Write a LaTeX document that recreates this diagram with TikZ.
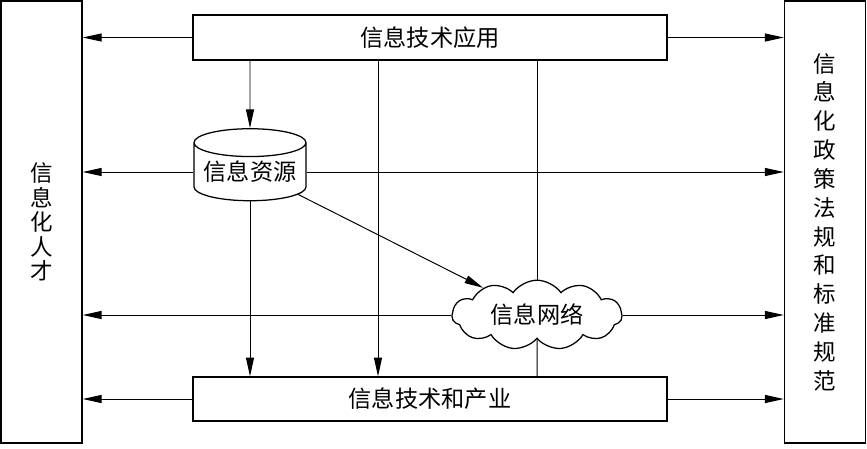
\documentclass[tikz,border=0pt]{standalone}
\usepackage{fontspec}
\setmainfont{Noto Sans CJK SC}
\usetikzlibrary{arrows.meta,shapes.geometric,shapes.symbols}

\tikzset{
  box/.style={draw, line width=0.9pt, rectangle, inner sep=0pt},
  lbl/.style={font=\fontsize{16.5pt}{18pt}\selectfont},
  arr/.style={line width=0.7pt, -{Triangle[length=0.47cm, width=0.2cm]}},
  ln/.style={line width=0.7pt}
}

\begin{document}
\begin{tikzpicture}[x=0.025cm, y=-0.025cm]
  \useasboundingbox (0,0) rectangle (867,448);

  % seitliche Saeulen
  \node[box, minimum width=2.03cm, minimum height=11.05cm, align=center,
        font=\fontsize{16pt}{17.5pt}\selectfont] (talent) at (41.5,222)
        {信\\息\\化\\人\\才};
  \node[box, minimum width=2.03cm, minimum height=11.05cm, align=center,
        font=\fontsize{16pt}{20.5pt}\selectfont] (policy) at (825,222)
        {信\\息\\化\\政\\策\\法\\规\\和\\标\\准\\规\\范};

  % mittlere Elemente
  \node[box, lbl, minimum width=11.85cm, minimum height=1.12cm] (app) at (430,37.5) {信息技术应用};
  \node[box, lbl, minimum width=11.85cm, minimum height=1.1cm] (ind) at (430,399) {信息技术和产业};
  \node[draw, line width=0.9pt, lbl, cylinder, shape border rotate=90, aspect=0.3,
        minimum width=2.8cm, minimum height=1.8cm, inner sep=0pt] (res) at (250,172) {信息资源};
  \node[draw, line width=0.9pt, lbl, cloud, cloud puffs=11, cloud puff arc=110, aspect=2.5,
        minimum width=4.25cm, minimum height=1.68cm, inner sep=0pt] (net) at (537,315) {信息网络};

  \coordinate (mid) at (378,0);

  % Verbindungen
  \draw[arr] (app.west) -- (app.west -| talent.east);
  \draw[arr] (app.east) -- (app.east -| policy.west);
  \draw[arr] (app.south -| res) -- (res.north);
  \draw[arr] (app.south -| mid) -- (ind.north -| mid);
  \draw[ln] (app.south -| net) -- (net);
  \draw[ln] (net) -- (ind.north -| net);

  \draw[arr] (res.west) -- (res.west -| talent.east);
  \draw[arr] (res.east) -- (res.east -| policy.west);
  \draw[arr] (res.south) -- (res.south |- ind.north);
  \draw[arr] (res.-25) -- (net);

  \draw[arr] (net.west) -- (net.west -| talent.east);
  \draw[arr] (net.east) -- (net.east -| policy.west);

  \draw[arr] (ind.west) -- (ind.west -| talent.east);
  \draw[arr] (ind.east) -- (ind.east -| policy.west);
\end{tikzpicture}
\end{document}
